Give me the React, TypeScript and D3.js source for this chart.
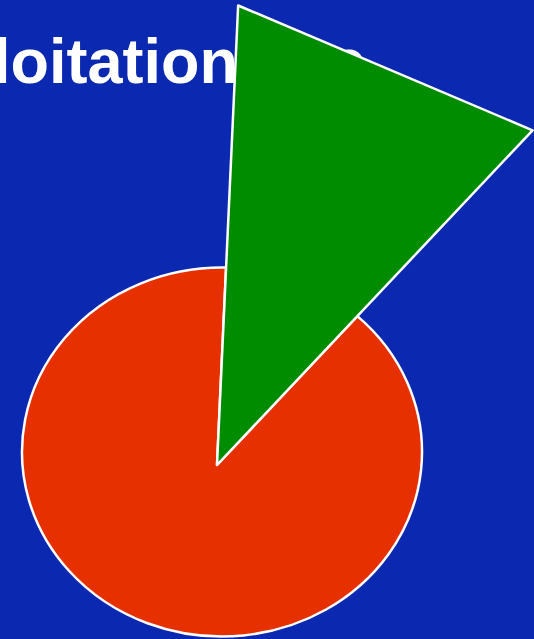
import React from 'react';
import * as d3 from 'd3';

// Slice data
const categories = ['Exploited', 'Other'];
const values = [11.3, 88.7];
const colors = ['#008c00', '#e63000'];
const titleWords = ['Exploitation', 'rate'];

const W = 534;
const H = 639;

export default function App() {
  const startAngle = 0.046;
  const pie = d3
    .pie<number>()
    .sort(null)
    .startAngle(startAngle)
    .endAngle(startAngle + 2 * Math.PI);
  const arcs = pie(values);

  // pie apex and the elliptical body of the main slice
  const apex: [number, number] = [217, 465];
  const ell = { cx: 222, cy: 452, rx: 200, ry: 184.5 };
  const explodedRadius = 460;

  // point where a ray from the apex at angle a meets the ellipse
  const rayHit = (a: number): [number, number] => {
    const dx = Math.sin(a);
    const dy = -Math.cos(a);
    const ox = apex[0] - ell.cx;
    const oy = apex[1] - ell.cy;
    const rx2 = ell.rx * ell.rx;
    const ry2 = ell.ry * ell.ry;
    const A = (dx * dx) / rx2 + (dy * dy) / ry2;
    const B = 2 * ((ox * dx) / rx2 + (oy * dy) / ry2);
    const C = (ox * ox) / rx2 + (oy * oy) / ry2 - 1;
    const t = (-B + Math.sqrt(B * B - 4 * A * C)) / (2 * A);
    return [apex[0] + dx * t, apex[1] + dy * t];
  };

  const green = arcs[0];
  const red = arcs[1];

  const rayPoint = (a: number, r: number): [number, number] => [
    apex[0] + r * Math.sin(a),
    apex[1] - r * Math.cos(a),
  ];

  const line = d3.line<[number, number]>();
  const greenPath =
    line([
      apex,
      rayPoint(green.startAngle, explodedRadius),
      rayPoint(green.endAngle, explodedRadius),
    ]) + 'Z';

  const p1 = rayHit(red.startAngle);
  const p0 = rayHit(red.endAngle);
  const redPath = `M${apex[0]},${apex[1]}L${p1[0]},${p1[1]}A${ell.rx},${ell.ry} 0 1 1 ${p0[0]},${p0[1]}Z`;

  return (
    <svg
      width={W}
      height={H}
      style={{ position: 'absolute', left: 0, top: 0, display: 'block' }}
    >
      <rect x={0} y={0} width={W} height={H} fill="#0a28b0" />
      <text
        x={-122.5}
        y={82.5}
        fill="#ffffff"
        fontFamily="'Liberation Sans', Arial, Helvetica, sans-serif"
        fontWeight="bold"
        fontSize={63}
      >
        <tspan>{titleWords[0]}</tspan>
        <tspan dx={-5}>{' ' + titleWords[1]}</tspan>
      </text>
      <path d={redPath} fill={colors[1]} stroke="#ffffff" strokeWidth={2.5} strokeLinejoin="round">
        <title>{categories[1]}</title>
      </path>
      <path d={greenPath} fill={colors[0]} stroke="#ffffff" strokeWidth={2.5} strokeLinejoin="round">
        <title>{categories[0]}</title>
      </path>
    </svg>
  );
}
